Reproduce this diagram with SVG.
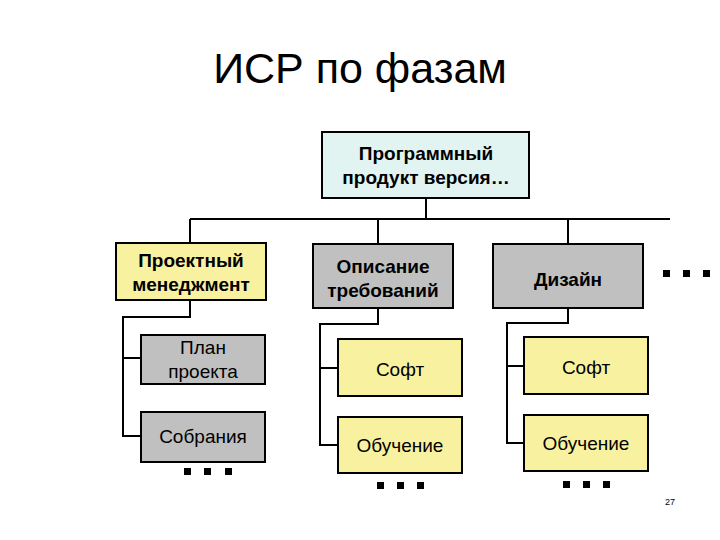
<svg xmlns="http://www.w3.org/2000/svg" width="720" height="540" viewBox="0 0 720 540">
<style>
.box{stroke:#000;stroke-width:2}
.cyan{fill:#E2F4F2}
.yel{fill:#F8F2A0}
.gray{fill:#C0C0C0}
.t{font-family:"Liberation Sans",Arial,sans-serif;font-size:19px;text-anchor:middle;fill:#000}
.b{font-weight:bold}
.ln{fill:none;stroke:#000;stroke-width:2}
.dot{fill:#000}
</style>
<rect width="720" height="540" fill="#fff"/>
<text x="360" y="83" font-family="Liberation Sans,Arial,sans-serif" font-size="43" text-anchor="middle">ИСР по фазам</text>
<g id="connectors">
<path class="ln" d="M426 198V219M190 219H670M190 219V243M378 219V244M568 219V244"/>
<path class="ln" d="M190 300V317H123V436H141M123 358H141"/>
<path class="ln" d="M378 308V324H320V445H338M320 368H338"/>
<path class="ln" d="M568 308V323H507V443H524M507 366H524"/>
</g>
<g id="root"><rect class="box cyan" x="322" y="132" width="207" height="66"/>
<text class="t b" x="426" y="160">Программный</text><text class="t b" x="426" y="184">продукт версия…</text></g>
<g id="pm"><rect class="box yel" x="116" y="243" width="150" height="57"/>
<text class="t b" x="191" y="267">Проектный</text><text class="t b" x="191" y="291">менеджмент</text></g>
<g id="req"><rect class="box gray" x="313" y="244" width="140" height="64"/>
<text class="t b" x="383" y="273">Описание</text><text class="t b" x="383" y="297">требований</text></g>
<g id="design"><rect class="box gray" x="493" y="244" width="150" height="64"/>
<text class="t b" x="568" y="286">Дизайн</text></g>
<g id="plan"><rect class="box gray" x="141" y="335" width="124" height="49"/>
<text class="t" x="203" y="354">План</text><text class="t" x="203" y="378">проекта</text></g>
<g id="meet"><rect class="box gray" x="141" y="412" width="124" height="50"/>
<text class="t" x="203" y="443">Собрания</text></g>
<g id="soft1"><rect class="box yel" x="338" y="339" width="124" height="57"/>
<text class="t" x="400" y="376">Софт</text></g>
<g id="train1"><rect class="box yel" x="338" y="417" width="124" height="56"/>
<text class="t" x="400" y="452">Обучение</text></g>
<g id="soft2"><rect class="box yel" x="524" y="337" width="124" height="57"/>
<text class="t" x="586" y="374">Софт</text></g>
<g id="train2"><rect class="box yel" x="524" y="415" width="124" height="56"/>
<text class="t" x="586" y="450">Обучение</text></g>
<g id="dots">
<rect class="dot" x="663" y="270" width="7" height="7"/><rect class="dot" x="683" y="270" width="7" height="7"/><rect class="dot" x="703" y="270" width="7" height="7"/>
<rect class="dot" x="184" y="468" width="7" height="7"/><rect class="dot" x="204" y="468" width="7" height="7"/><rect class="dot" x="225" y="468" width="7" height="7"/>
<rect class="dot" x="377" y="482" width="7" height="7"/><rect class="dot" x="397" y="482" width="7" height="7"/><rect class="dot" x="417" y="482" width="7" height="7"/>
<rect class="dot" x="563" y="481" width="7" height="7"/><rect class="dot" x="583" y="481" width="7" height="7"/><rect class="dot" x="603" y="481" width="7" height="7"/>
</g>
<text x="670" y="505" font-family="Liberation Sans,Arial,sans-serif" font-size="9" text-anchor="middle">27</text>
</svg>
